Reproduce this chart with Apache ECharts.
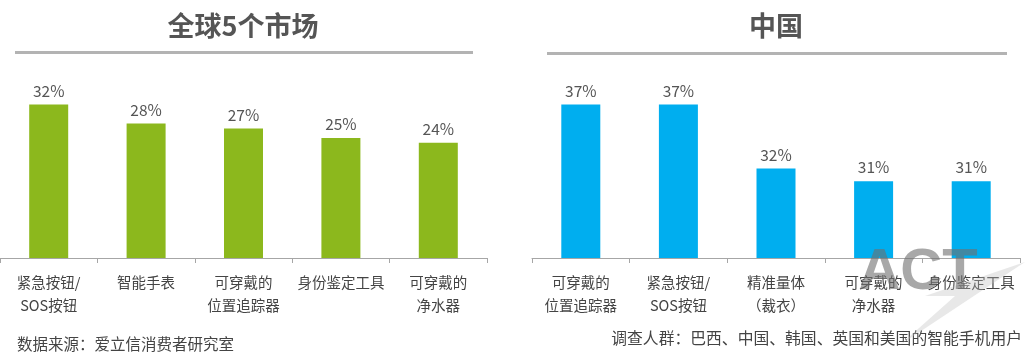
<!DOCTYPE html>
<html>
<head>
<meta charset="utf-8">
<script src="https://cdn.jsdelivr.net/npm/echarts@6/dist/echarts.min.js"></script>
<style>
html,body{margin:0;padding:0;background:#fff;}
#c{width:1036px;height:364px;}
</style>
</head>
<body>
<div id="c"></div>
<script>
const titleGlobal = '全球5个市场';
const titleChina = '中国';
const categoriesGlobal = ['紧急按钮/\nSOS按钮', '智能手表', '可穿戴的\n位置追踪器', '身份鉴定工具', '可穿戴的\n净水器'];
const valuesGlobal = [32, 28, 27, 25, 24];
const categoriesChina = ['可穿戴的\n位置追踪器', '紧急按钮/\nSOS按钮', '精准量体\n（裁衣）', '可穿戴的\n净水器', '身份鉴定工具'];
const valuesChina = [37, 37, 32, 31, 31];
const sourceNote = '数据来源：爱立信消费者研究室';
const surveyNote = '调查人群：巴西、中国、韩国、英国和美国的智能手机用户';

const FONT = '"Noto Sans CJK SC", "Noto Sans", sans-serif';
const chart = echarts.init(document.getElementById('c'), null, {renderer: 'canvas'});

function xAxisFor(idx, cats) {
  return {
    type: 'category', gridIndex: idx, data: cats,
    axisLine: {lineStyle: {color: '#a6a6a6', width: 1}},
    axisTick: {show: true, alignWithLabel: false, length: 5, lineStyle: {color: '#a6a6a6'}},
    axisLabel: {interval: 0, color: '#444', fontSize: 14.5, lineHeight: 23, margin: 13, fontFamily: FONT}
  };
}
function barSeries(idx, vals, color) {
  return {
    type: 'bar', xAxisIndex: idx, yAxisIndex: idx, data: vals, barWidth: 39,
    itemStyle: {color: color},
    label: {show: true, position: 'top', distance: 6, formatter: '{c}%', color: '#555', fontSize: 15.5, fontFamily: FONT},
    silent: true, animation: false
  };
}

chart.setOption({
  animation: false,
  grid: [
    {left: 0, top: 66, width: 487, height: 192},
    {left: 532, top: 66, width: 488, height: 192}
  ],
  xAxis: [xAxisFor(0, categoriesGlobal), xAxisFor(1, categoriesChina)],
  yAxis: [
    {type: 'value', gridIndex: 0, min: 0, max: 40, show: false, splitLine: {show: false}},
    {type: 'value', gridIndex: 1, min: 25, max: 40, show: false, splitLine: {show: false}}
  ],
  series: [barSeries(0, valuesGlobal, '#8cb81d'), barSeries(1, valuesChina, '#00aeef')],
  graphic: [
    {type: 'text', x: 243, y: 26, style: {text: titleGlobal, font: 'bold 27px ' + FONT, fill: '#555', textAlign: 'center', textVerticalAlign: 'middle'}},
    {type: 'text', x: 776, y: 26, style: {text: titleChina, font: 'bold 27px ' + FONT, fill: '#555', textAlign: 'center', textVerticalAlign: 'middle'}},
    {type: 'line', shape: {x1: 15, y1: 52.5, x2: 473, y2: 52.5}, style: {stroke: '#b3b3b3', lineWidth: 3}},
    {type: 'line', shape: {x1: 547, y1: 53.5, x2: 1007, y2: 53.5}, style: {stroke: '#b3b3b3', lineWidth: 3}},
    {type: 'text', x: 17, y: 344, style: {text: sourceNote, font: '15.5px ' + FONT, fill: '#444', textAlign: 'left', textVerticalAlign: 'middle'}},
    {type: 'text', x: 1022, y: 338, style: {text: surveyNote, font: '15.8px ' + FONT, fill: '#444', textAlign: 'right', textVerticalAlign: 'middle'}},
    {type: 'polygon', shape: {points: [[1025, 262], [900, 345], [955, 296], [925, 296]]}, style: {fill: 'rgba(190,190,190,0.35)'}, z: 100},
    {type: 'text', x: 918, y: 273, style: {text: 'ACT', font: 'bold 58px "Liberation Sans", Arial, sans-serif', fill: 'rgba(110,110,110,0.6)', textAlign: 'center', textVerticalAlign: 'middle'}, z: 100}
  ]
});
</script>
</body>
</html>
